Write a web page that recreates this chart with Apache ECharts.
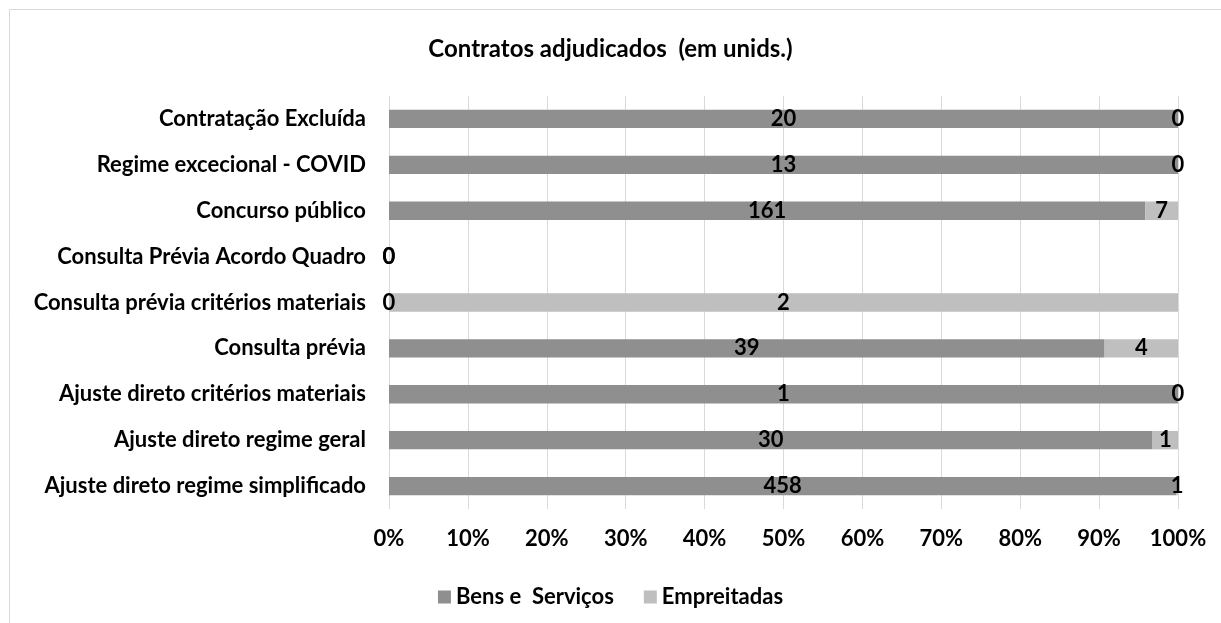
<!DOCTYPE html>
<html>
<head>
<meta charset="utf-8">
<script src="https://cdn.jsdelivr.net/npm/echarts@6/dist/echarts.min.js"></script>
<style>
html,body{margin:0;padding:0;background:#fff;}
#chart{width:1221px;height:623px;}
</style>
</head>
<body>
<div id="chart"></div>
<script>
const categories = [
  "Contratação Excluída",
  "Regime excecional - COVID",
  "Concurso público",
  "Consulta Prévia Acordo Quadro",
  "Consulta prévia critérios materiais",
  "Consulta prévia",
  "Ajuste direto critérios materiais",
  "Ajuste direto regime geral",
  "Ajuste direto regime simplificado"
];
const bensServicos = [20, 13, 161, 0, 0, 39, 1, 30, 458];
const empreitadas  = [0, 0, 7, 0, 2, 4, 0, 1, 1];
const seriesNames = ["Bens e  Serviços", "Empreitadas"];
const tickLabels = ["0%","10%","20%","30%","40%","50%","60%","70%","80%","90%","100%"];

function pct(a, b, i) {
  const t = a[i] + b[i];
  return t === 0 ? 0 : a[i] / t * 100;
}
const bensPct = bensServicos.map((v, i) => pct(bensServicos, empreitadas, i));
const empPct = empreitadas.map((v, i) => pct(empreitadas, bensServicos, i));

const FONT = "Lato";
const FS = 22;
const chart = echarts.init(document.getElementById('chart'), null, {renderer: 'canvas'});
const labelStyle = {
  show: true,
  position: 'inside',
  color: '#000',
  fontFamily: FONT,
  fontWeight: 'bold',
  fontSize: FS
};
chart.setOption({
  backgroundColor: '#fff',
  animation: false,
  graphic: [{
    type: 'rect',
    shape: {x: 9.5, y: 9.5, width: 1300, height: 700},
    style: {fill: 'none', stroke: '#d9d9d9', lineWidth: 1},
    silent: true,
    z: -1
  }],
  title: {
    text: 'Contratos adjudicados  (em unids.)',
    left: 'center',
    top: 32,
    textStyle: {fontFamily: FONT, fontWeight: 'bold', fontSize: 24, color: '#000'}
  },
  legend: {
    top: 581,
    left: 'center',
    itemWidth: 13,
    itemHeight: 13,
    itemGap: 30,
    icon: 'rect',
    textStyle: {fontFamily: FONT, fontWeight: 'bold', fontSize: FS, color: '#000'},
    data: seriesNames
  },
  grid: {left: 389, right: 43, top: 96, bottom: 114, containLabel: false},
  xAxis: {
    type: 'value',
    min: 0,
    max: 100,
    interval: 10,
    axisLine: {show: false},
    axisTick: {show: false},
    splitLine: {show: true, lineStyle: {color: '#d9d9d9', width: 1}},
    axisLabel: {
      margin: 19,
      fontFamily: FONT, fontWeight: 'bold', fontSize: FS, color: '#000',
      formatter: (v) => tickLabels[Math.round(v / 10)]
    }
  },
  yAxis: {
    type: 'category',
    inverse: true,
    data: categories,
    axisLine: {show: false},
    axisTick: {show: false},
    axisLabel: {margin: 23, fontFamily: FONT, fontWeight: 'bold', fontSize: FS, color: '#000'}
  },
  series: [
    {
      name: seriesNames[0],
      type: 'bar',
      stack: 'total',
      barCategoryGap: '60%',
      data: bensPct,
      itemStyle: {color: '#8f8f8f'},
      label: Object.assign({}, labelStyle, {formatter: (p) => String(bensServicos[p.dataIndex])})
    },
    {
      name: seriesNames[1],
      type: 'bar',
      stack: 'total',
      barCategoryGap: '60%',
      data: empPct,
      itemStyle: {color: '#bfbfbf'},
      label: Object.assign({}, labelStyle, {formatter: (p) => String(empreitadas[p.dataIndex])})
    }
  ]
});
</script>
</body>
</html>
